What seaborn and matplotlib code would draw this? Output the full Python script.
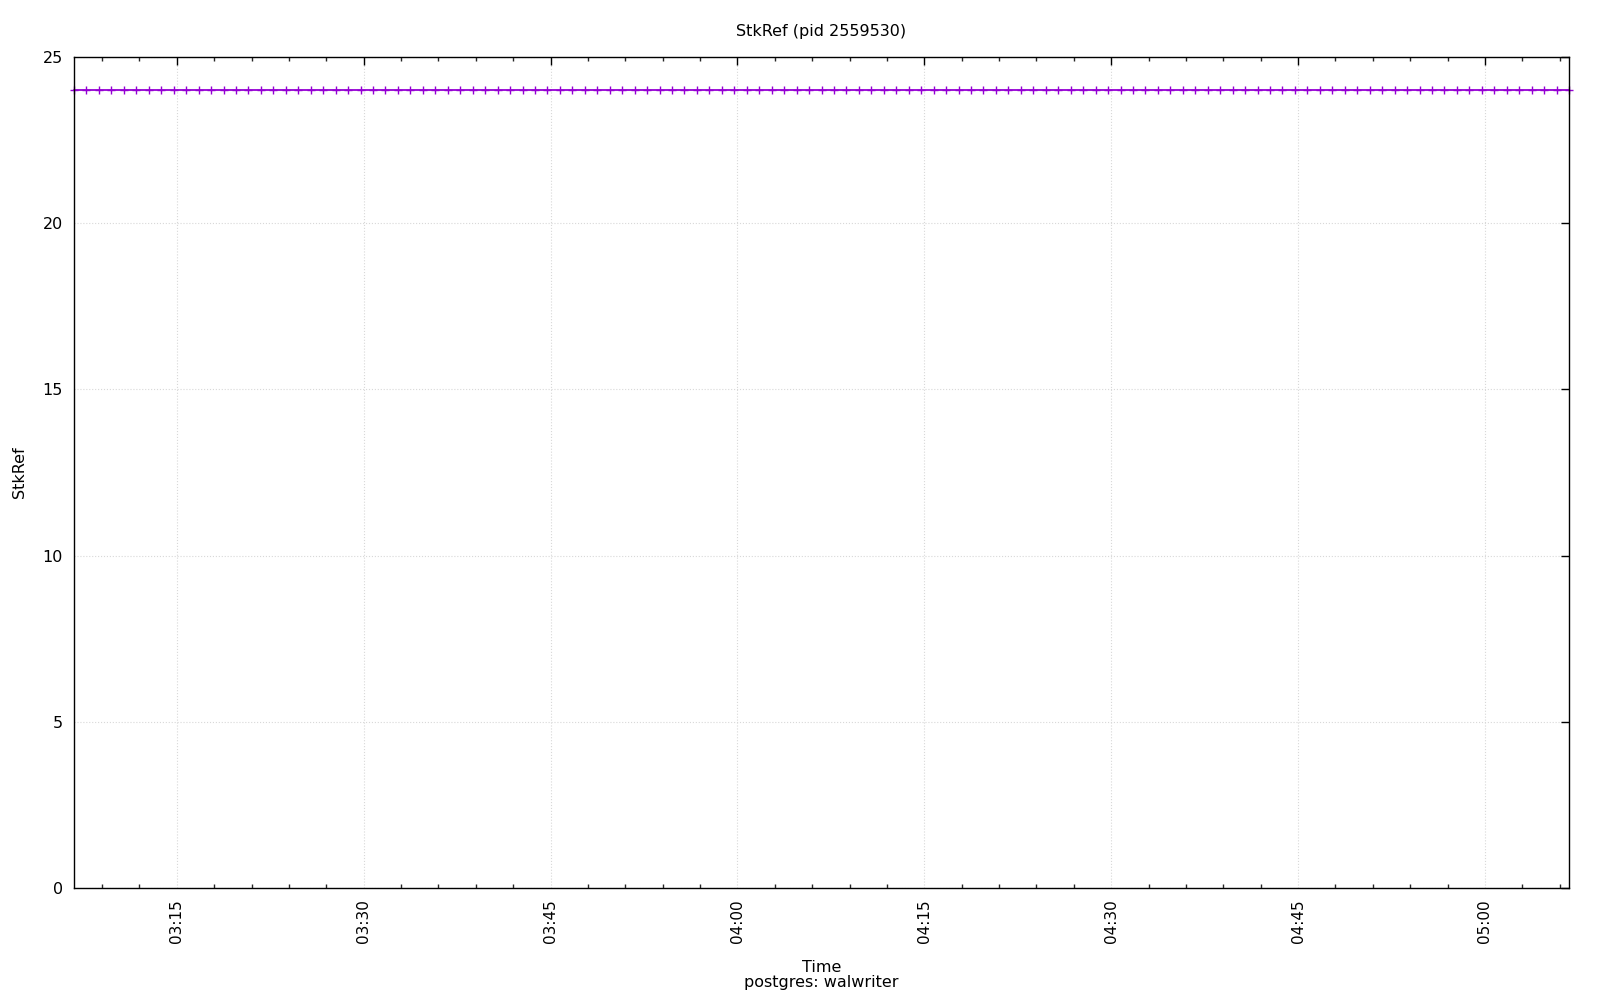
import matplotlib
matplotlib.use("Agg")
import matplotlib.pyplot as plt
import matplotlib.dates as mdates
import seaborn as sns
import pandas as pd

# StkRef samples, one per minute
start_time = "2024-01-01 03:06:45"
end_time = "2024-01-01 05:06:45"
stkref = [
    24, 24, 24, 24, 24, 24, 24, 24, 24, 24, 24, 24, 24, 24, 24, 24, 24, 24, 24, 24,
    24, 24, 24, 24, 24, 24, 24, 24, 24, 24, 24, 24, 24, 24, 24, 24, 24, 24, 24, 24,
    24, 24, 24, 24, 24, 24, 24, 24, 24, 24, 24, 24, 24, 24, 24, 24, 24, 24, 24, 24,
    24, 24, 24, 24, 24, 24, 24, 24, 24, 24, 24, 24, 24, 24, 24, 24, 24, 24, 24, 24,
    24, 24, 24, 24, 24, 24, 24, 24, 24, 24, 24, 24, 24, 24, 24, 24, 24, 24, 24, 24,
    24, 24, 24, 24, 24, 24, 24, 24, 24, 24, 24, 24, 24, 24, 24, 24, 24, 24, 24, 24,
    24,
]
times = pd.date_range(start_time, periods=len(stkref), freq="1min")
df = pd.DataFrame({"Time": times, "StkRef": stkref})

sns.set_style("white")
plt.rcParams["font.family"] = ["DejaVu Sans"]
plt.rcParams["text.color"] = "black"
plt.rcParams["axes.labelcolor"] = "black"

fig = plt.figure(figsize=(16, 10), dpi=100)
ax = fig.add_axes([74 / 1600, 1 - 888 / 1000, (1569 - 74) / 1600, (888 - 57) / 1000])

sns.lineplot(data=df, x="Time", y="StkRef", ax=ax, color="#9400d3",
             linewidth=1.3, marker="+", markersize=5.5, markeredgewidth=1.0,
             markeredgecolor="#9400d3", clip_on=False)

ax.set_xlim(pd.Timestamp(start_time), pd.Timestamp(end_time))
ax.set_ylim(0, 25)
ax.set_yticks([0, 5, 10, 15, 20, 25])

ax.xaxis.set_major_locator(mdates.MinuteLocator(byminute=[0, 15, 30, 45]))
ax.xaxis.set_minor_locator(mdates.MinuteLocator(byminute=range(0, 60, 3)))
ax.xaxis.set_major_formatter(mdates.DateFormatter("%H:%M"))

ax.tick_params(axis="both", which="major", direction="in", length=6, width=1,
               top=True, right=True, labelsize=11.5, pad=8, colors="black")
ax.tick_params(axis="x", which="major", labelsize=11)
ax.tick_params(axis="x", which="minor", direction="in", length=3, width=1,
               top=True, bottom=True)
plt.setp(ax.get_xticklabels(), rotation=90)

for side in ax.spines.values():
    side.set_color("black")
    side.set_linewidth(1)

ax.grid(True, which="major", linestyle=":", color="#d8d8d8", linewidth=0.8)

ax.set_title("StkRef (pid 2559530)", fontsize=11.5, pad=15)
ax.set_xlabel("Time\npostgres: walwriter", fontsize=11.5, labelpad=12, linespacing=1.05)
ax.set_ylabel("StkRef", fontsize=11.5, labelpad=11)

fig.savefig("out.png", dpi=100)
